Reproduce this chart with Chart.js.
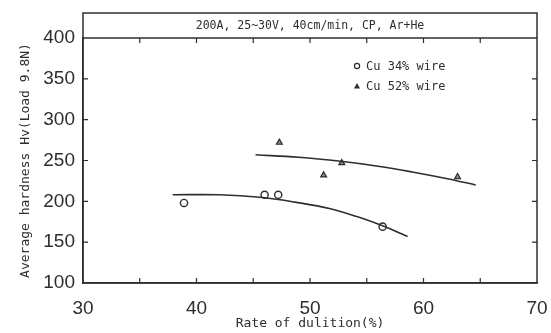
<!DOCTYPE html>
<html>
<head>
<meta charset="utf-8">
<script src="https://cdn.jsdelivr.net/npm/chart.js@4.4.1/dist/chart.umd.min.js"></script>
<style>
  html, body { margin: 0; padding: 0; background: #fff; }
  #wrap { width: 551px; height: 333px; }
</style>
</head>
<body>
<div id="wrap"><canvas id="chart" width="551" height="333"></canvas></div>
<script>
// measured points
const cu34X = [38.9, 46.0, 47.2, 56.4];
const cu34Y = [198, 208, 208, 169];
const cu52X = [47.3, 51.2, 52.8, 63.0];
const cu52Y = [272, 232, 247, 230];

// fitted curves as drawn in the figure
const fit34X = [37.9, 42.0, 45.6, 48.7, 51.8, 54.2, 56.4, 58.6];
const fit34Y = [208, 208, 205, 199, 191, 181, 170, 157];
const fit52X = [45.2, 49.0, 52.7, 56.0, 59.0, 62.0, 64.6];
const fit52Y = [257, 254, 249, 243, 236, 228, 220];

const xLabels = [30, 40, 50, 60, 70];
const xTickMarks = [35, 40, 45, 50, 55, 60, 65];
const yTickMarks = [150, 200, 250, 300, 350];

const titleText = "200A, 25~30V, 40cm/min, CP, Ar+He";
const xTitle = "Rate of dulition(%)";
const yTitle = "Average hardness Hv(Load 9.8N)";

const ink = "#2e2e2e";
const numFont = "'Liberation Sans', Arial, sans-serif";
const monoFont = "'DejaVu Sans Mono', 'Liberation Mono', monospace";

const pts = (xs, ys) => xs.map((x, i) => ({ x, y: ys[i] }));

const framePlugin = {
  id: "frame",
  afterDraw(chart) {
    const { ctx, chartArea: a, scales } = chart;
    const xs = scales.x, ys = scales.y;
    ctx.save();
    ctx.strokeStyle = ink;
    ctx.lineWidth = 1.5;
    // header box
    const boxTop = 13;
    ctx.strokeRect(a.left, boxTop, a.right - a.left, a.bottom - boxTop);
    ctx.beginPath();
    ctx.moveTo(a.left, a.top);
    ctx.lineTo(a.right, a.top);
    ctx.stroke();
    ctx.fillStyle = ink;
    ctx.font = "11.5px " + monoFont;
    ctx.textAlign = "center";
    ctx.textBaseline = "middle";
    ctx.fillText(titleText, (a.left + a.right) / 2, (boxTop + a.top) / 2 + 1);

    // inward ticks
    ctx.lineWidth = 1.2;
    ctx.beginPath();
    xTickMarks.forEach((v) => {
      const px = xs.getPixelForValue(v);
      ctx.moveTo(px, a.bottom); ctx.lineTo(px, a.bottom - 5);
      ctx.moveTo(px, a.top); ctx.lineTo(px, a.top + 5);
    });
    yTickMarks.forEach((v) => {
      const py = ys.getPixelForValue(v);
      ctx.moveTo(a.left, py); ctx.lineTo(a.left + 5, py);
      ctx.moveTo(a.right, py); ctx.lineTo(a.right - 5, py);
    });
    ctx.stroke();

    // legend
    ctx.font = "12px " + monoFont;
    ctx.textAlign = "left";
    const lx = 357;
    [[66, "circle", "Cu 34% wire"], [86, "triangle", "Cu 52% wire"]].forEach(([ly, style, label]) => {
      ctx.lineWidth = 1.2;
      ctx.beginPath();
      if (style === "circle") {
        ctx.arc(lx, ly, 2.6, 0, Math.PI * 2);
        ctx.stroke();
      } else {
        ctx.moveTo(lx, ly - 3); ctx.lineTo(lx + 3, ly + 2.5); ctx.lineTo(lx - 3, ly + 2.5);
        ctx.closePath();
        ctx.fill();
      }
      ctx.fillText(label, lx + 9, ly + 1);
    });
    ctx.restore();
  },
};

new Chart(document.getElementById("chart"), {
  type: "scatter",
  data: {
    datasets: [
      {
        label: "fit 34", type: "line", data: pts(fit34X, fit34Y),
        borderColor: ink, borderWidth: 1.6, pointRadius: 0, tension: 0.4, fill: false,
      },
      {
        label: "fit 52", type: "line", data: pts(fit52X, fit52Y),
        borderColor: ink, borderWidth: 1.6, pointRadius: 0, tension: 0.4, fill: false,
      },
      {
        label: "Cu 34% wire", data: pts(cu34X, cu34Y),
        pointStyle: "circle", pointRadius: 3.6, borderWidth: 1.4,
        borderColor: ink, backgroundColor: "#fff",
      },
      {
        label: "Cu 52% wire", data: pts(cu52X, cu52Y),
        pointStyle: "triangle", pointRadius: 3.4, borderWidth: 1.2,
        borderColor: ink, backgroundColor: "#888",
      },
    ],
  },
  options: {
    responsive: false,
    animation: false,
    layout: { padding: { left: 0, right: 14, top: 38, bottom: 0 } },
    plugins: { legend: { display: false }, tooltip: { enabled: false } },
    scales: {
      x: {
        type: "linear", min: 30, max: 70,
        afterFit: (s) => { s.height = 50; s.paddingLeft = 0; s.paddingRight = 0; },
        afterBuildTicks: (s) => { s.ticks = xLabels.map((v) => ({ value: v })); },
        grid: { display: false, drawTicks: false },
        border: { display: true, color: ink, width: 1.5 },
        ticks: { color: ink, padding: 14, maxRotation: 0, font: { family: numFont, size: 19 } },
        title: {
          display: true, text: xTitle, color: ink, padding: { top: 2, bottom: 2 },
          font: { family: monoFont, size: 13 },
        },
      },
      y: {
        type: "linear", min: 100, max: 400,
        afterFit: (s) => { s.width = 83; s.paddingTop = 0; s.paddingBottom = 0; },
        ticks: { stepSize: 50, color: ink, padding: 8, font: { family: numFont, size: 19 } },
        grid: { display: false, drawTicks: false },
        border: { display: true, color: ink, width: 1.5 },
        title: {
          display: true, text: yTitle, color: ink, padding: { top: 18, bottom: 0 },
          font: { family: monoFont, size: 13 },
        },
      },
    },
  },
  plugins: [framePlugin],
});
</script>
</body>
</html>
